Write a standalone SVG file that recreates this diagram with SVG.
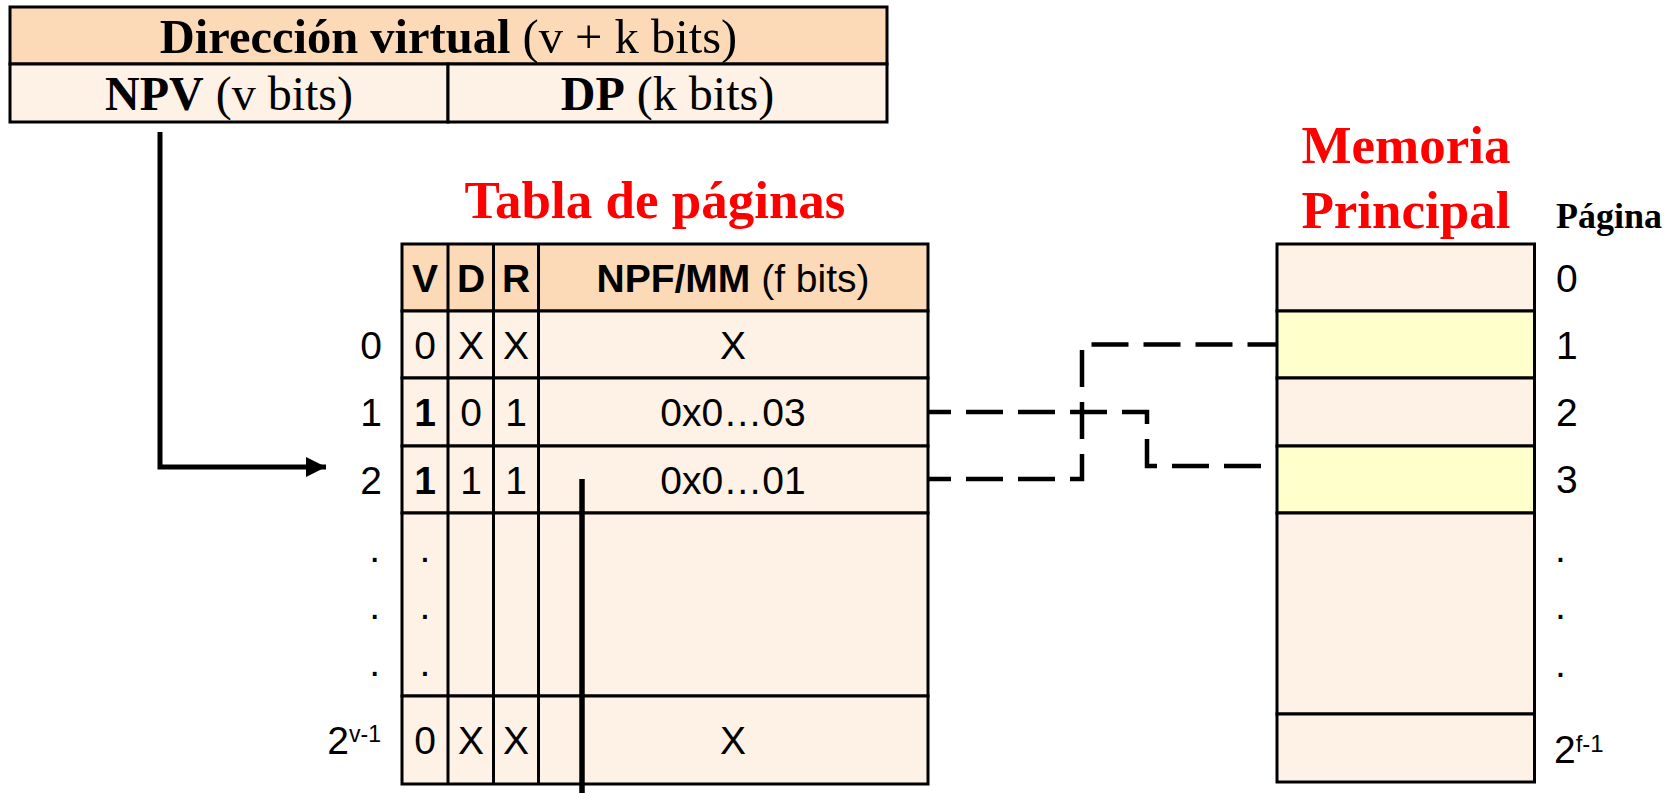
<svg xmlns="http://www.w3.org/2000/svg" width="1678" height="793" viewBox="0 0 1678 793">
<style>
.serif{font-family:"Liberation Serif","Times New Roman",serif}
.sans{font-family:"Liberation Sans",Arial,sans-serif}
.b{font-weight:bold}
.cell{stroke:#000;stroke-width:3}
.hdr{fill:#FCDAB8}
.body{fill:#FEF1E5}
.hl{fill:#FFFFCC}
.t39{font-size:39px}
.red{fill:#FF0000;font-size:53px;font-weight:bold}
.dash{fill:none;stroke:#000;stroke-width:4.5;stroke-dasharray:37 15}
</style>
<defs>
<marker id="arr" markerUnits="userSpaceOnUse" markerWidth="22" markerHeight="22" refX="20" refY="10" orient="auto">
<path d="M0,0 L20,10 L0,20 Z" fill="#000"/>
</marker>
</defs>
<rect width="1678" height="793" fill="#fff"/>

<g id="virtual-address">
<rect x="10" y="7" width="877" height="57" class="cell hdr"/>
<rect x="10" y="64" width="438" height="58" class="cell body"/>
<rect x="448" y="64" width="439" height="58" class="cell body"/>
<text x="448.5" y="53" text-anchor="middle" class="serif" font-size="48.5"><tspan class="b">Dirección virtual</tspan> (v + k bits)</text>
<text x="229" y="110" text-anchor="middle" class="serif" font-size="48"><tspan class="b">NPV</tspan> (v bits)</text>
<text x="667.5" y="110" text-anchor="middle" class="serif" font-size="48"><tspan class="b">DP</tspan> (k bits)</text>
</g>

<g id="page-table">
<text x="655" y="218" text-anchor="middle" class="serif red">Tabla de páginas</text>
<rect x="402" y="244" width="526" height="67" class="cell hdr"/>
<rect x="402" y="311" width="526" height="67" class="cell body"/>
<rect x="402" y="378" width="526" height="68" class="cell body"/>
<rect x="402" y="446" width="526" height="67" class="cell body"/>
<rect x="402" y="513" width="526" height="183" class="cell body"/>
<rect x="402" y="696" width="526" height="88" class="cell body"/>
<line x1="448" y1="244" x2="448" y2="784" class="cell"/>
<line x1="493.5" y1="244" x2="493.5" y2="784" class="cell"/>
<line x1="538.5" y1="244" x2="538.5" y2="784" class="cell"/>
<g class="sans t39" text-anchor="middle">
<text x="425" y="292" class="b">V</text>
<text x="471" y="292" class="b">D</text>
<text x="516" y="292" class="b">R</text>
<text x="733" y="292"><tspan class="b">NPF/MM</tspan> (f bits)</text>
<text x="425" y="359">0</text><text x="471" y="359">X</text><text x="516" y="359">X</text><text x="733" y="359">X</text>
<text x="425" y="426" class="b">1</text><text x="471" y="426">0</text><text x="516" y="426">1</text><text x="733" y="426">0x0…03</text>
<text x="425" y="493.5" class="b">1</text><text x="471" y="493.5">1</text><text x="516" y="493.5">1</text><text x="733" y="493.5">0x0…01</text>
<text x="425" y="562">.</text><text x="425" y="619">.</text><text x="425" y="676">.</text>
<text x="425" y="754">0</text><text x="471" y="754">X</text><text x="516" y="754">X</text><text x="733" y="754">X</text>
</g>
<g class="sans t39" text-anchor="end">
<text x="382" y="359">0</text>
<text x="382" y="426">1</text>
<text x="382" y="493.5">2</text>
<text x="380" y="562">.</text><text x="380" y="619">.</text><text x="380" y="676">.</text>
<text x="381" y="754">2<tspan font-size="23" dy="-12">v-1</tspan></text>
</g>
</g>

<g id="main-memory">
<text x="1406" y="163" text-anchor="middle" class="serif red">Memoria</text>
<text x="1406" y="228" text-anchor="middle" class="serif red">Principal</text>
<text x="1556" y="228" class="serif b" font-size="36">Página</text>
<rect x="1277" y="244" width="257.5" height="67" class="cell body"/>
<rect x="1277" y="311" width="257.5" height="67" class="cell hl"/>
<rect x="1277" y="378" width="257.5" height="68" class="cell body"/>
<rect x="1277" y="446" width="257.5" height="67" class="cell hl"/>
<rect x="1277" y="513" width="257.5" height="201" class="cell body"/>
<rect x="1277" y="714" width="257.5" height="68" class="cell body"/>
<g class="sans t39">
<text x="1556" y="292">0</text>
<text x="1556" y="359">1</text>
<text x="1556" y="426">2</text>
<text x="1556" y="493">3</text>
<text x="1555" y="562">.</text><text x="1555" y="619">.</text><text x="1555" y="677">.</text>
<text x="1554" y="763">2<tspan font-size="24" dy="-11">f-1</tspan></text>
</g>
</g>

<g id="connectors">
<path d="M160,132 V467 H326" fill="none" stroke="#000" stroke-width="5" marker-end="url(#arr)"/>
<line x1="582" y1="479" x2="582" y2="793" stroke="#000" stroke-width="5.5"/>
<path d="M928,412 H1147 V466 H1277" class="dash" stroke-dashoffset="14"/>
<path d="M928,479 H1082 V344.5 H1277" class="dash" stroke-dashoffset="14"/>
</g>
</svg>
